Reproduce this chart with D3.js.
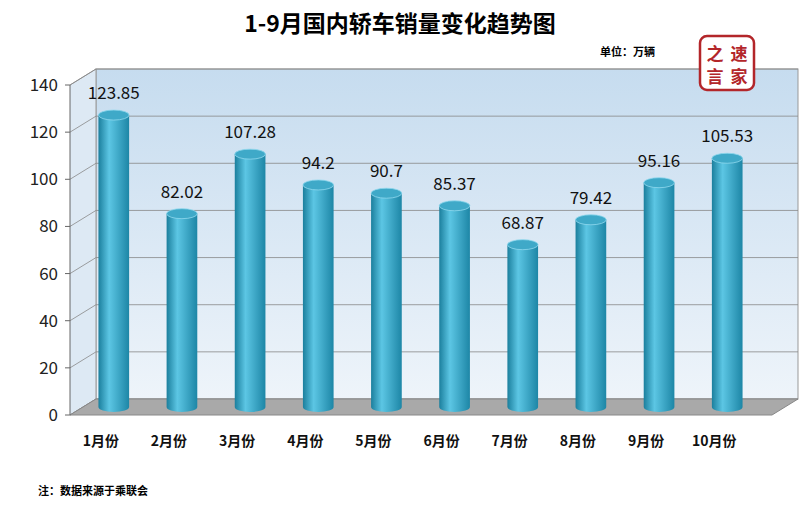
<!DOCTYPE html>
<html><head><meta charset="utf-8">
<script src="https://cdn.jsdelivr.net/npm/d3@7"></script>
<style>body{margin:0;background:#fff}svg{font-family:"Noto Sans CJK SC","Noto Sans",sans-serif}</style>
</head><body><svg width="800" height="507"></svg>
<script>
// chart data
var months = ["1月份","2月份","3月份","4月份","5月份","6月份","7月份","8月份","9月份","10月份"];
var sales = [123.85, 82.02, 107.28, 94.2, 90.7, 85.37, 68.87, 79.42, 95.16, 105.53];
var yTicks = [0, 20, 40, 60, 80, 100, 120, 140];

var svg = d3.select("svg");
var dx = 26, dy = -16; // depth offset for the 3d wall
var plotLeft = 70, plotRight = 752, plotBottom = 415, plotTop = 85;

var x = d3.scaleBand().domain(months).range([68, 753]).paddingInner(0.55).paddingOuter(0.3);
var y = d3.scaleLinear().domain([0, 140]).range([plotBottom, plotTop]);

var defs = svg.append("defs");
var wall = defs.append("linearGradient").attr("id", "wall").attr("x1", 0).attr("x2", 0).attr("y1", 0).attr("y2", 1);
wall.append("stop").attr("offset", 0).attr("stop-color", "#c6dcef");
wall.append("stop").attr("offset", 1).attr("stop-color", "#eef4fa");
var cyl = defs.append("linearGradient").attr("id", "cyl");
cyl.append("stop").attr("offset", 0).attr("stop-color", "#1b7f9d");
cyl.append("stop").attr("offset", 0.35).attr("stop-color", "#5cc6e4");
cyl.append("stop").attr("offset", 1).attr("stop-color", "#1d86a6");

// back wall
svg.append("rect").attr("x", plotLeft + dx).attr("y", y(140) + dy).attr("width", plotRight + 20 - plotLeft)
  .attr("height", plotBottom - y(140)).attr("fill", "url(#wall)").attr("stroke", "#999");
// side wall
svg.append("path").attr("d", d3.line()([[plotLeft, y(140)], [plotLeft + dx, y(140) + dy], [plotLeft + dx, plotBottom + dy], [plotLeft, plotBottom]]))
  .attr("fill", "#dde9f4").attr("stroke", "#999");

// gridlines
yTicks.forEach(function(t) {
  svg.append("path").attr("d", d3.line()([[plotLeft, y(t)], [plotLeft + dx, y(t) + dy], [plotRight + 20 + dx, y(t) + dy]]))
    .attr("fill", "none").attr("stroke", "#888").attr("stroke-width", 0.8);
});

// floor
svg.append("path").attr("d", d3.line()([[plotLeft, plotBottom], [plotLeft + dx, plotBottom + dy], [plotRight + 20 + dx, plotBottom + dy], [plotRight + 20, plotBottom]]) + "Z")
  .attr("fill", "#a9a9a9").attr("stroke", "#888");

// y axis
svg.append("line").attr("x1", plotLeft).attr("x2", plotLeft).attr("y1", y(140)).attr("y2", plotBottom).attr("stroke", "#666");
svg.selectAll(".ytick").data(yTicks).enter().append("text")
  .attr("x", plotLeft - 12).attr("y", function(d) { return y(d) + 6; })
  .attr("text-anchor", "end").attr("font-size", 17).attr("fill", "#222").text(function(d) { return d; });
svg.selectAll(".ymark").data(yTicks).enter().append("line")
  .attr("x1", plotLeft - 5).attr("x2", plotLeft).attr("y1", function(d) { return y(d); }).attr("y2", function(d) { return y(d); })
  .attr("stroke", "#666");

// cylinders
var bx = 10, by = -8, rx = x.bandwidth() / 2, ry = 5;
var g = svg.selectAll(".bar").data(sales).enter().append("g");
g.append("path").attr("d", function(d, i) {
  var cx = x(months[i]) + rx + bx, b = plotBottom + by, t = y(d) + by;
  return "M" + (cx - rx) + "," + t + "L" + (cx - rx) + "," + b +
    "A" + rx + "," + ry + " 0 0 0 " + (cx + rx) + "," + b +
    "L" + (cx + rx) + "," + t + "Z";
}).attr("fill", "url(#cyl)");
g.append("ellipse").attr("cx", function(d, i) { return x(months[i]) + rx + bx; })
  .attr("cy", function(d) { return y(d) + by; }).attr("rx", rx).attr("ry", ry)
  .attr("fill", "#3fa9c8").attr("stroke", "#8fd8ee").attr("stroke-width", 0.8);
g.append("text").attr("x", function(d, i) { return x(months[i]) + rx + bx; })
  .attr("y", function(d) { return y(d) + by - 16; }).attr("text-anchor", "middle")
  .attr("font-size", 17).attr("fill", "#111").text(function(d) { return d; });

// category labels
svg.selectAll(".xl").data(months).enter().append("text")
  .attr("x", function(d) { return x(d) + rx - 3; }).attr("y", 446)
  .attr("text-anchor", "middle").attr("font-size", 14).attr("font-weight", "bold").attr("fill", "#111")
  .text(function(d) { return d; });

// titles
svg.append("text").attr("x", 400).attr("y", 32).attr("text-anchor", "middle")
  .attr("font-size", 23).attr("font-weight", "bold").text("1-9月国内轿车销量变化趋势图");
svg.append("text").attr("x", 600).attr("y", 56).attr("font-size", 11).attr("font-weight", "bold").text("单位：万辆");
svg.append("text").attr("x", 38).attr("y", 495).attr("font-size", 11).attr("font-weight", "bold").text("注：数据来源于乘联会");

// logo
var logo = svg.append("g").attr("transform", "translate(700,36)");
logo.append("rect").attr("width", 54).attr("height", 54).attr("rx", 7).attr("fill", "#fff")
  .attr("stroke", "#b3262a").attr("stroke-width", 2.5);
[["之", 15, 24], ["速", 39, 24], ["言", 15, 47], ["家", 39, 47]].forEach(function(c) {
  logo.append("text").attr("x", c[1]).attr("y", c[2]).attr("text-anchor", "middle")
    .attr("font-size", 17).attr("font-weight", "bold").attr("fill", "#b3262a").text(c[0]);
});
</script></body></html>
